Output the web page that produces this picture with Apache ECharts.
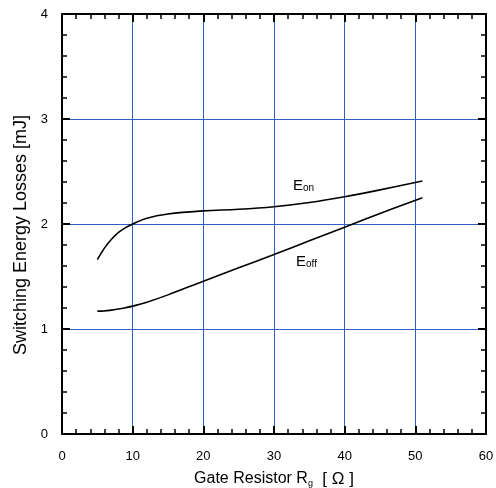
<!DOCTYPE html>
<html><head><meta charset="utf-8">
<script src="https://cdn.jsdelivr.net/npm/echarts@6/dist/echarts.min.js"></script>
<style>html,body{margin:0;padding:0;background:#fff}#c{width:496px;height:488px}</style>
</head><body><div id="c"></div>
<script>
var rg = [5, 6, 7, 8, 9, 10, 12, 15, 20, 25, 30, 35, 40, 45, 51];
var eon = [1.66, 1.77, 1.855, 1.92, 1.965, 2.0, 2.055, 2.095, 2.125, 2.14, 2.165, 2.205, 2.26, 2.325, 2.41];
var eoff = [1.17, 1.172, 1.18, 1.19, 1.203, 1.218, 1.255, 1.325, 1.455, 1.583, 1.71, 1.84, 1.97, 2.1, 2.25];
var xTicks = [0, 10, 20, 30, 40, 50, 60];
var yTicks = [0, 1, 2, 3, 4];

var font = '"Liberation Sans", Arial, sans-serif';
var gridBlue = '#2f5fbf';
function pairs(xs, ys) { return xs.map(function (x, i) { return [x, ys[i]]; }); }

var chart = echarts.init(document.getElementById('c'), null, { renderer: 'canvas' });
var axisCommon = {
  axisLine: { show: true, onZero: false, lineStyle: { color: '#000', width: 2 } },
  axisTick: { show: true, inside: true, length: 8, lineStyle: { color: '#000', width: 2 } },
  minorTick: { show: true, splitNumber: 5, length: 5, lineStyle: { color: '#000', width: 1.5 } }
};
chart.setOption({
  animation: false,
  backgroundColor: '#fff',
  grid: { left: 62, right: 10, top: 14, bottom: 54, containLabel: false, outerBoundsMode: 'none' },
  xAxis: [
    Object.assign({
      type: 'value', min: 0, max: 60, interval: 10, position: 'bottom',
      name: 'Gate Resistor R{sub|g}{br|  [ Ω ]}', nameLocation: 'middle', nameGap: 36,
      nameTextStyle: { color: '#000', fontSize: 16, fontFamily: font, lineHeight: 18,
        rich: {
          sub: { fontSize: 9, verticalAlign: 'bottom', lineHeight: 18, padding: [6, 0, 0, 0], fontFamily: font },
          br: { fontSize: 17, lineHeight: 18, fontFamily: font }
        } },
      axisLabel: { color: '#000', fontSize: 13, fontFamily: font, margin: 16 },
      splitLine: { show: true, lineStyle: { color: gridBlue, width: 1 } }
    }, axisCommon),
    Object.assign({
      type: 'value', min: 0, max: 60, interval: 10, position: 'top',
      axisLabel: { show: false }, splitLine: { show: false }
    }, axisCommon)
  ],
  yAxis: [
    Object.assign({
      type: 'value', min: 0, max: 4, interval: 1, position: 'left',
      name: 'Switching Energy Losses [mJ]', nameLocation: 'middle', nameGap: 32,
      nameTextStyle: { color: '#000', fontSize: 18, fontFamily: font, padding: [0, 22, 0, 0] },
      axisLabel: { color: '#000', fontSize: 13, fontFamily: font, margin: 14 },
      splitLine: { show: true, lineStyle: { color: gridBlue, width: 1 } }
    }, axisCommon),
    Object.assign({
      type: 'value', min: 0, max: 4, interval: 1, position: 'right',
      axisLabel: { show: false }, splitLine: { show: false }
    }, axisCommon)
  ],
  series: [
    { name: 'Eon', type: 'line', data: pairs(rg, eon), smooth: 0.4, showSymbol: false,
      lineStyle: { color: '#000', width: 1.6 }, z: 5 },
    { name: 'Eoff', type: 'line', data: pairs(rg, eoff), smooth: 0.4, showSymbol: false,
      lineStyle: { color: '#000', width: 1.6 }, z: 5 }
  ],
  graphic: [
    { type: 'text', left: 293, top: 178, z: 10,
      style: { text: 'E{s|on}', fill: '#000', font: '15px ' + font,
        rich: { s: { fontSize: 10, fontFamily: font, padding: [5, 0, 0, 0] } } } },
    { type: 'text', left: 296, top: 254, z: 10,
      style: { text: 'E{s|off}', fill: '#000', font: '15px ' + font,
        rich: { s: { fontSize: 10, fontFamily: font, padding: [5, 0, 0, 0] } } } }
  ]
});
</script></body></html>
